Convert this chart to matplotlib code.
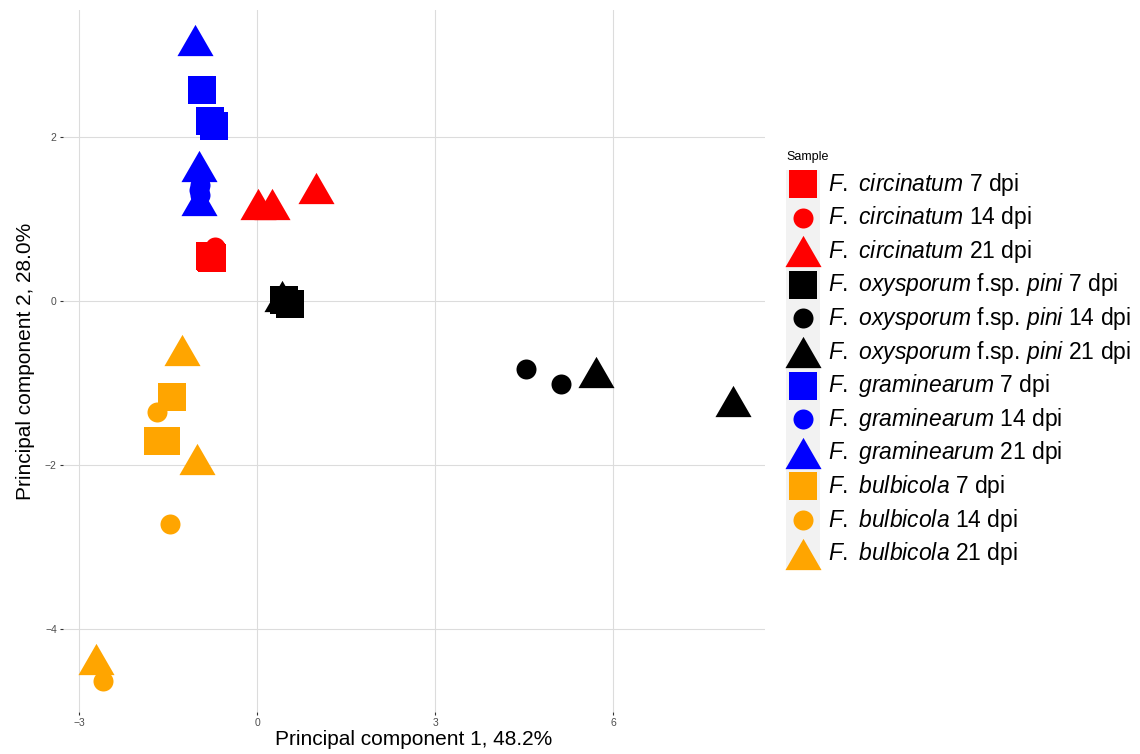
import numpy as np
import matplotlib
matplotlib.use("Agg")
import matplotlib.pyplot as plt
from matplotlib.path import Path
from matplotlib.patches import Rectangle

plt.rcParams['font.family'] = ['Liberation Sans', 'DejaVu Sans']
plt.rcParams['mathtext.fontset'] = 'custom'
plt.rcParams['mathtext.it'] = 'Liberation Sans:italic'
plt.rcParams['mathtext.rm'] = 'Liberation Sans'

# Sample groups in legend order
groups = ['circ7', 'circ14', 'circ21', 'oxy7', 'oxy14', 'oxy21',
          'gram7', 'gram14', 'gram21', 'bulb7', 'bulb14', 'bulb21']
labels = [
    r'$\mathit{F.\ circinatum}$ 7 dpi',
    r'$\mathit{F.\ circinatum}$ 14 dpi',
    r'$\mathit{F.\ circinatum}$ 21 dpi',
    r'$\mathit{F.\ oxysporum}$ f.sp. $\mathit{pini}$ 7 dpi',
    r'$\mathit{F.\ oxysporum}$ f.sp. $\mathit{pini}$ 14 dpi',
    r'$\mathit{F.\ oxysporum}$ f.sp. $\mathit{pini}$ 21 dpi',
    r'$\mathit{F.\ graminearum}$ 7 dpi',
    r'$\mathit{F.\ graminearum}$ 14 dpi',
    r'$\mathit{F.\ graminearum}$ 21 dpi',
    r'$\mathit{F.\ bulbicola}$ 7 dpi',
    r'$\mathit{F.\ bulbicola}$ 14 dpi',
    r'$\mathit{F.\ bulbicola}$ 21 dpi',
]
group_colors = ['red'] * 3 + ['black'] * 3 + ['blue'] * 3 + ['orange'] * 3

# PCA scores (long format)
sample = (['circ7'] * 3 + ['circ14'] * 3 + ['circ21'] * 3 +
          ['oxy7'] * 2 + ['oxy14'] * 3 + ['oxy21'] * 3 +
          ['gram7'] * 3 + ['gram14'] * 3 + ['gram21'] * 3 +
          ['bulb7'] * 3 + ['bulb14'] * 3 + ['bulb21'] * 3)
pc1 = [-0.80, -0.76, -0.78, -0.71, -0.77, -0.74, 0.02, 0.25, 0.99,
       0.46, 0.56, 0.50, 4.53, 5.12, 0.42, 5.72, 8.02,
       -0.93, -0.79, -0.72, -0.96, -0.96, -0.97, -1.04, -0.98, -0.98,
       -1.43, -1.67, -1.53, -1.69, -1.47, -2.60, -1.26, -1.01, -2.71]
pc2 = [0.55, 0.52, 0.54, 0.66, 0.58, 0.60, 1.18, 1.18, 1.38,
       0.01, -0.04, -0.02, -0.83, -1.01, 0.06, -0.87, -1.22,
       2.57, 2.20, 2.13, 1.41, 1.29, 1.35, 3.19, 1.65, 1.23,
       -1.17, -1.70, -1.71, -1.35, -2.72, -4.63, -0.60, -1.92, -4.36]

# ggplot-like equilateral triangle
tri = Path([(0, 0.866), (-1, -0.866), (1, -0.866), (0, 0.866)],
           [Path.MOVETO, Path.LINETO, Path.LINETO, Path.CLOSEPOLY])
shape_marker = {7: ('s', 20), 14: ('o', 14.4), 21: (tri, 26)}


def dpi_of(g):
    return int(''.join(c for c in g if c.isdigit()))


fig = plt.figure(figsize=(11.4, 7.54), dpi=100)
ax = fig.add_axes([63 / 1140, 1 - 712 / 754, (765 - 63) / 1140, (712 - 10) / 754])

sample = np.array(sample)
pc1 = np.array(pc1)
pc2 = np.array(pc2)
for g, col in zip(groups, group_colors):
    m, ms = shape_marker[dpi_of(g)]
    sel = sample == g
    ax.plot(pc1[sel], pc2[sel], linestyle='none', marker=m, markersize=ms,
            color=col, markeredgewidth=0, zorder=3)

ax.set_xlim(-3.27, 8.56)
ax.set_ylim(-5.01, 3.55)
ax.set_xticks([-3, 0, 3, 6])
ax.set_yticks([-4, -2, 0, 2])
ax.set_xticklabels(['\u22123', '0', '3', '6'])
ax.set_yticklabels(['\u22124', '\u22122', '0', '2'])
ax.grid(True, color='#dcdcdc', linewidth=0.8)
ax.set_axisbelow(True)
for s in ax.spines.values():
    s.set_visible(False)
ax.tick_params(length=2.5, width=0.8, color='#333333', labelcolor='#4d4d4d',
               labelsize=7.5, pad=2)
ax.set_xlabel('Principal component 1, 48.2%', fontsize=15, labelpad=1)
ax.set_ylabel('Principal component 2, 28.0%', fontsize=15, labelpad=7)

# legend drawn by hand, ggplot style
lax = fig.add_axes([0, 0, 1, 1], facecolor='none')
lax.set_xlim(0, 1140)
lax.set_ylim(754, 0)
lax.axis('off')
lax.add_patch(Rectangle((786, 170), 34, 400, facecolor='#f2f2f2', edgecolor='none'))
lax.text(786, 157, 'Sample', fontsize=9, va='center', ha='left')
row_h = 33.6
for i, (g, lab, col) in enumerate(zip(groups, labels, group_colors)):
    yc = 184 + i * row_h
    m, ms = shape_marker[dpi_of(g)]
    lax.plot([803], [yc], linestyle='none', marker=m, markersize=ms,
             color=col, markeredgewidth=0)
    lax.text(828, yc, lab, fontsize=16.5, va='center', ha='left')

fig.savefig('out.png', dpi=100)
